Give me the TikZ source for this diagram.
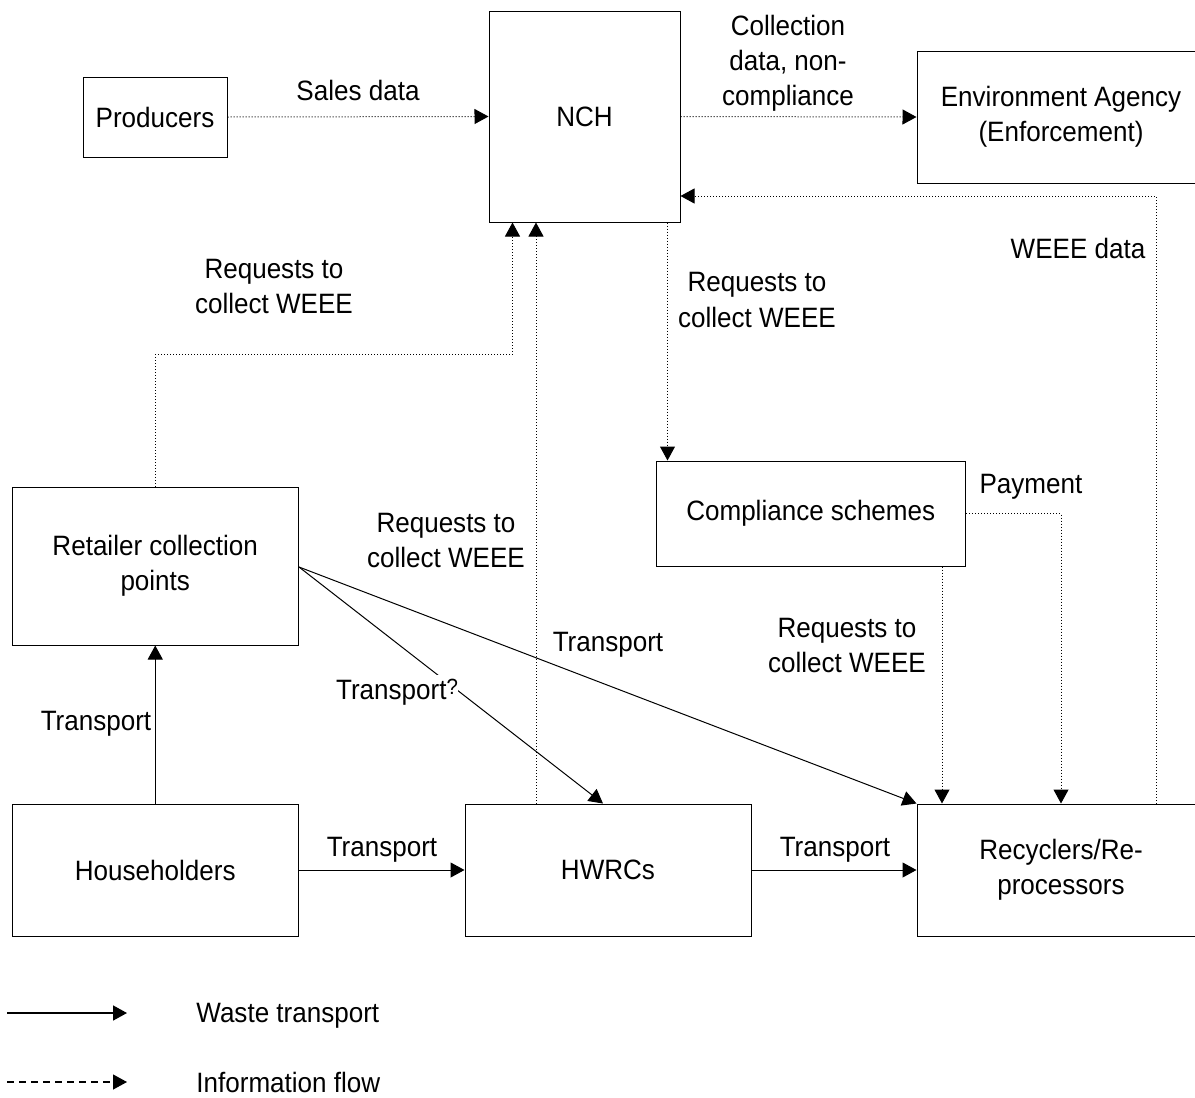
\documentclass[tikz,border=0pt]{standalone}
\usepackage{fontspec}
\setmainfont[FakeStretch=0.93]{Liberation Sans}
\usetikzlibrary{arrows.meta,calc}

\begin{document}
\begin{tikzpicture}[x=0.5pt,y=-0.5pt,
    font=\fontsize{14}{17.5}\selectfont,
    box/.style={draw, line width=0.5pt, inner sep=0pt, align=center},
    lbl/.style={inner sep=0pt, align=center},
    waste/.style={line width=0.5pt, -{Triangle[length=7pt,width=7.5pt]}},
    info/.style={line width=0.5pt, dash pattern=on 0.5pt off 1pt, -{Triangle[length=7pt,width=7.5pt]}}]
  % page frame (1195 x 1098 px)
  \useasboundingbox (0,0) rectangle (1195,1098);

  % boxes, placed at their centres
  \node[box, minimum width=72pt,   minimum height=40pt]   (prod)   at (155,117)   {Producers};
  \node[box, minimum width=95.5pt, minimum height=105.5pt] (nch)   at (584.5,116.5) {NCH};
  \node[box, minimum width=144pt,  minimum height=66pt]   (ea)     at (1061,117)  {Environment Agency\\(Enforcement)};
  \node[box, minimum width=154.75pt, minimum height=52.5pt] (compl) at (810.75,513.5) {Compliance schemes};
  \node[box, minimum width=143.25pt, minimum height=79pt] (retail) at (155.25,566) {Retailer collection\\points};
  \node[box, minimum width=143.25pt, minimum height=66pt] (house)  at (155.25,870) {Householders};
  \node[box, minimum width=143pt,  minimum height=66pt]   (hwrc)   at (608,870)   {HWRCs};
  \node[box, minimum width=144pt,  minimum height=66pt]   (recyc)  at (1061,870)  {Recyclers/Re-\\processors};

  % information flows (dotted)
  \draw[info] (prod.east) -- (nch.west);
  \draw[info] (nch.east) -- (ea.west);
  \coordinate (n1) at ($(nch.south west)+(24,0)$);
  \coordinate (n0) at ($(n1)+(0,132)$);
  \coordinate (n2) at ($(nch.south west)+(47.5,0)$);
  \coordinate (c1) at ($(compl.north west)+(12,0)$);
  \coordinate (c2) at ($(compl.south east)+(-24,0)$);
  \coordinate (r1) at ($(recyc.north)+(95,0)$);
  \draw[info] (retail.north) |- (n0) -- (n1);
  \draw[info] (hwrc.north -| n2) -- (n2);
  \draw[info] (nch.south -| c1) -- (c1);
  \draw[info] (c2) -- (recyc.north -| c2);
  \draw[info] (compl.east) -| (recyc.north);
  \draw[info] (r1) |- ($(nch.east)+(0,79.5)$);

  % waste transport (solid)
  \draw[waste] (house.north) -- (retail.south);
  \draw[waste] (house.east) -- (hwrc.west);
  \draw[waste] (hwrc.east) -- (recyc.west);
  \draw[waste] ($(retail.east)+(0,1)$) -- (recyc.north west);
  \draw[waste] ($(retail.east)+(0,1)$) -- ($(hwrc.north)+(-5,0)$);

  % labels
  \node[lbl] (lsales) at (358,90)  {Sales data};
  \node[lbl] (lcoll)  at (788,63)  {Collection\\data, non-\\compliance};
  \node[lbl] (lweee)  at (1078,248) {WEEE data};
  \node[lbl] (lreq1)  at (274,287) {Requests to\\collect WEEE};
  \node[lbl] (lreq2)  at (757,300) {Requests to\\collect WEEE};
  \node[lbl] (lreq3)  at (446,540) {Requests to\\collect WEEE};
  \node[lbl] (lreq4)  at (847,645) {Requests to\\collect WEEE};
  \node[lbl] (lpay)   at (1031,487) {Payment};
  \node[lbl] (ltr1)   at (96,724)  {Transport};
  \node[lbl] (ltr2)   at (382,850) {Transport};
  \node[lbl] (ltr3)   at (835,850) {Transport};
  \node[lbl] (ltr4)   at (608,645) {Transport};
  \node[lbl, fill=white, inner ysep=2pt] (ltr5) at (397,692) {Transport\raisebox{0.3ex}{\fontsize{11}{11}\selectfont ?}};

  % legend
  \coordinate (k1) at (7,1013);   \coordinate (k2) at (127,1013);
  \coordinate (k3) at (7,1082);   \coordinate (k4) at (127,1082);
  \draw[waste, line width=0.8pt] (k1) -- (k2);
  \draw[line width=0.6pt, dash pattern=on 3.5pt off 2.5pt, -{Triangle[length=7pt,width=7.5pt]}] (k3) -- (k4);
  \node[lbl, anchor=west] (lk1) at (196,1016) {Waste transport};
  \node[lbl, anchor=west] (lk2) at (196,1082) {Information flow};

\end{tikzpicture}
\end{document}
